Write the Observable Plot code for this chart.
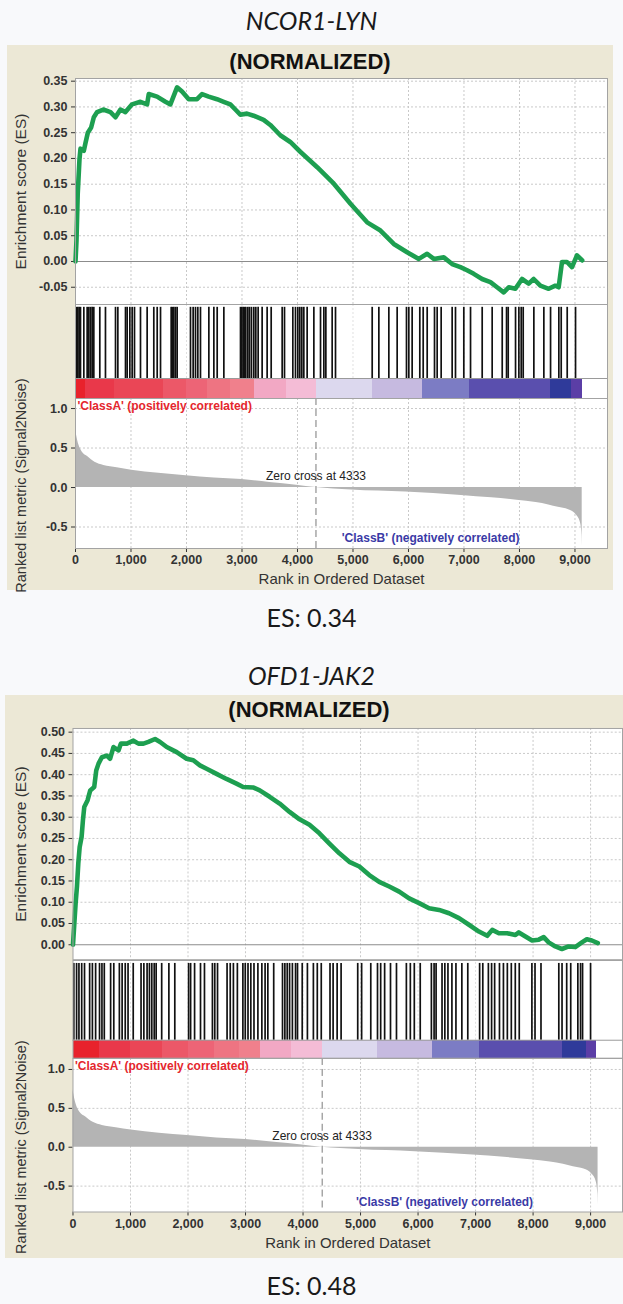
<!DOCTYPE html>
<html><head><meta charset="utf-8">
<script src="https://cdn.jsdelivr.net/npm/d3@7"></script>
<script src="https://cdn.jsdelivr.net/npm/@observablehq/plot@0.6"></script>
<style>
html,body{margin:0;padding:0;background:#f8f9fb;}
#root{position:relative;width:623px;height:1304px;overflow:hidden;background:#f8f9fb;}
.gene{position:absolute;left:0;width:623px;text-align:center;font-family:Lato,"Open Sans",sans-serif;font-style:italic;font-size:25px;color:#1a1a1a;line-height:1;}
.esv{position:absolute;left:0;width:623px;text-align:center;font-family:Lato,"Open Sans",sans-serif;font-size:25px;color:#1a1a1a;line-height:1;}
.panel{position:absolute;background:#ece8d6;}
.norm{position:absolute;text-align:center;font-family:"Liberation Sans",Arial,sans-serif;font-weight:bold;font-size:22px;color:#111;line-height:1;}
</style></head>
<body><div id="root"></div>
<script>
// ---------- data ----------
const geneTitles = ["NCOR1-LYN", "OFD1-JAK2"];
const esLabels = ["ES: 0.34", "ES: 0.48"];
const xTicks = [0, 1000, 2000, 3000, 4000, 5000, 6000, 7000, 8000, 9000];
const esTicks1 = [-0.05, 0, 0.05, 0.10, 0.15, 0.20, 0.25, 0.30, 0.35];
const esTicks2 = [0, 0.05, 0.10, 0.15, 0.20, 0.25, 0.30, 0.35, 0.40, 0.45, 0.50];
const metricTicks = [-0.5, 0.0, 0.5, 1.0];
const zeroCross = 4333;
const classALabel = "'ClassA' (positively correlated)";
const classBLabel = "'ClassB' (negatively correlated)";

// running enrichment score, panel 1 (NCOR1-LYN)
const esRank1 = [0,18,40,72,90,150,180,222,282,330,390,500,630,720,810,900,1020,1170,1290,1320,1470,1620,1710,1830,1920,2040,2190,2280,2400,2550,2670,2790,2880,2970,3090,3210,3390,3510,3690,3870,4050,4355,4655,4955,5255,5495,5735,5975,6186,6336,6456,6636,6786,6936,7056,7176,7326,7476,7596,7716,7806,7926,8046,8166,8256,8376,8526,8646,8706,8766,8856,8946,9036,9130];
const esVal1 = [0,0.041,0.131,0.199,0.219,0.215,0.23,0.25,0.26,0.28,0.29,0.295,0.29,0.28,0.295,0.29,0.305,0.31,0.305,0.325,0.32,0.31,0.305,0.338,0.33,0.315,0.315,0.325,0.32,0.315,0.31,0.305,0.295,0.285,0.287,0.283,0.275,0.265,0.245,0.232,0.213,0.183,0.151,0.112,0.076,0.060,0.034,0.018,0.005,0.015,0.005,0.008,-0.005,-0.011,-0.017,-0.024,-0.034,-0.040,-0.050,-0.060,-0.050,-0.053,-0.034,-0.043,-0.034,-0.047,-0.053,-0.047,-0.050,-0.001,-0.001,-0.011,0.012,0.002];

// running enrichment score, panel 2 (OFD1-JAK2)
const esRank2 = [0,23,46,69,92,116,150,173,196,254,300,369,404,444,502,589,646,704,791,832,936,1051,1138,1225,1311,1427,1514,1630,1803,1976,2092,2207,2323,2496,2669,2843,2958,3131,3247,3420,3593,3766,3940,4112,4285,4459,4632,4805,4979,5152,5325,5499,5672,5845,6019,6192,6365,6539,6712,6885,7059,7203,7290,7405,7550,7694,7752,7867,7983,8098,8185,8271,8387,8502,8618,8733,8849,8935,9022,9126];
const esVal2 = [0,0.05,0.098,0.137,0.191,0.23,0.254,0.293,0.324,0.34,0.363,0.371,0.41,0.426,0.441,0.445,0.4375,0.465,0.457,0.473,0.473,0.48,0.473,0.473,0.477,0.484,0.477,0.465,0.453,0.4375,0.434,0.422,0.414,0.402,0.39,0.379,0.371,0.37,0.363,0.348,0.332,0.3125,0.295,0.282,0.262,0.238,0.215,0.195,0.184,0.164,0.148,0.137,0.125,0.109,0.098,0.086,0.082,0.074,0.0625,0.047,0.031,0.021,0.035,0.027,0.027,0.023,0.029,0.0195,0.010,0.012,0.018,0.0055,-0.004,-0.010,-0.004,-0.0055,0.0055,0.013,0.010,0.004];

// gene-set hit positions (rank)
const hits1 = [18,42,66,90,150,210,240,270,300,330,438,540,721,763,901,931,979,1021,1063,1171,1291,1411,1472,1532,1724,1748,1772,1802,1832,2072,2120,2162,2204,2252,2403,2493,2553,2673,2973,2997,3021,3045,3069,3105,3135,3171,3213,3249,3291,3363,3453,3526,3724,3766,3916,3964,4006,4042,4078,4114,4174,4295,4415,4475,4511,4625,4685,5346,5466,5646,5796,5964,6006,6066,6204,6265,6337,6469,6517,6589,6787,6847,6997,7118,7328,7508,7689,7767,7797,7929,7989,8031,8067,8259,8439,8560,8709,8752,8860,9010];
const hits2 = [14,62,103,151,200,289,337,393,461,503,544,654,709,806,854,908,957,1047,1183,1232,1288,1329,1370,1412,1446,1542,1667,1770,2010,2045,2114,2217,2286,2424,2465,2513,2679,2734,2789,2858,2954,2995,3043,3092,3147,3215,3284,3340,3388,3490,3643,3684,3725,3766,3815,3870,3904,3986,4076,4180,4248,4317,4469,4523,4593,4662,4951,5019,5178,5295,5350,5419,5521,5625,5797,5866,5935,6038,6232,6279,6314,6417,6466,6520,6589,6659,6762,6865,7071,7126,7223,7279,7332,7416,7485,7553,7622,7691,7760,7980,8034,8138,8448,8504,8585,8655,8779,8826,8861,9000];

// ranked list metric (Signal2Noise), same ranked list in both panels
const metricRank = [0,20,60,120,223,350,510,750,1011,1500,1992,2500,3000,3500,3982,4333,4970,5950,6953,7500,7955,8300,8527,8700,8885,9030,9100,9125,9130];
const metricVal = [0.74,0.66,0.54,0.45,0.39,0.32,0.28,0.25,0.22,0.18,0.15,0.12,0.10,0.065,0.03,0,-0.03,-0.057,-0.10,-0.13,-0.16,-0.19,-0.22,-0.25,-0.28,-0.35,-0.45,-0.6,-0.74];

// colour bar bands: rank edges and level index into the palette
const bandEdges1 = [0,186,700,1584,2000,2372,2800,3224,3800,4342,5350,6252,7100,8550,8940,9135];
const bandEdges2 = [0,461,1000,1563,2000,2458,2900,3255,3800,4330,5300,6252,7071,8516,8930,9110];
const bandLevels = [0,1,2,3,4,5,6,7,8,9,10,11,12,13,14];
const bandPalette = ["#e8222c","#e9384a","#ea4656","#ec5868","#ed6476","#ee7482","#f0808c","#f2a8c4","#f4bcd6","#dcd8ee","#c6bae0","#7c7cc4","#5a4fae","#2f3a9a","#5b3ea6"];

// ---------- layout (page pixels) ----------
const LAYOUT = [
  {panelL:7, panelR:613, panelT:45, panelB:590, frameL:75, frameR:607, normY:51, esT:78, esB:304, hitsB:398, cbH:20, rankB:548,
   titleY:8, esY:605, esDom:[-0.0835,0.3552], mDom:[-0.772,1.127], xMax:9586},
  {panelL:5, panelR:640, panelT:695, panelB:1258, frameL:72.7, frameR:624, normY:699, esT:728, esB:960, hitsB:1058, cbH:18, rankB:1212,
   titleY:663, esY:1273, esDom:[-0.0352,0.5087], mDom:[-0.833,1.141], xMax:9555}
];

const panels = [
  {es: d3.zip(esRank1, esVal1), esTicks: esTicks1, hits: hits1, edges: bandEdges1},
  {es: d3.zip(esRank2, esVal2), esTicks: esTicks2, hits: hits2, edges: bandEdges2}
];
const metric = d3.zip(metricRank, metricVal).map(([rank, value]) => ({rank, value}));

const root = document.getElementById("root");
const grid = {stroke:"#c9c9c9", strokeDasharray:"2,2"};
const baseStyle = {background:"transparent", fontFamily:"'Liberation Sans', Arial, sans-serif", fontSize:"12.5px", fontWeight:"bold", color:"#333", overflow:"visible"};

function place(el, left, top) {
  el.style.position = "absolute";
  el.style.left = left + "px";
  el.style.top = top + "px";
  root.appendChild(el);
}

panels.forEach((p, i) => {
  const g = LAYOUT[i];
  const t = document.createElement("div");
  t.className = "gene"; t.textContent = geneTitles[i]; t.style.top = g.titleY + "px"; root.appendChild(t);

  const bg = document.createElement("div");
  bg.className = "panel";
  Object.assign(bg.style, {left:g.panelL+"px", top:g.panelT+"px", width:(g.panelR-g.panelL)+"px", height:(g.panelB-g.panelT)+"px"});
  root.appendChild(bg);

  const n = document.createElement("div");
  n.className = "norm"; n.textContent = "(NORMALIZED)";
  Object.assign(n.style, {left:g.panelL+"px", width:(613-g.panelL)+"px", top:g.normY+"px"});
  root.appendChild(n);

  const W = g.frameR + 6 - g.panelL;
  const mL = g.frameL - g.panelL;
  const labelDx = 21 - g.frameL;
  const es = p.es.map(([rank, v]) => ({rank, es: v}));
  const labelStyle = {frameAnchor: "left", textAnchor: "middle", rotate: -90, dx: labelDx, fontSize: 15.5, fontWeight: "normal", fill: "#333"};

  // ---- running ES ----
  const esPlot = Plot.plot({
    width: W, height: g.esB - g.esT + 8, marginTop: 8, marginBottom: 0, marginLeft: mL, marginRight: 6,
    style: baseStyle,
    x: {domain: [0, g.xMax], axis: null},
    y: {domain: g.esDom, ticks: p.esTicks, tickFormat: d => d.toFixed(2), tickSize: 4, tickPadding: 4, label: null},
    marks: [
      Plot.frame({fill: "white", stroke: "none"}),
      Plot.ruleX(xTicks.slice(1), grid),
      Plot.ruleY(p.esTicks.filter(v => v !== 0), grid),
      Plot.ruleY([0], {stroke: "#8c8c8c", strokeWidth: 1.2}),
      Plot.line(es, {x: "rank", y: "es", stroke: "#1d9f50", strokeWidth: 4.6, strokeLinejoin: "round"}),
      Plot.frame({stroke: "#a3a3a3"}),
      Plot.text(["Enrichment score (ES)"], {text: d => d, ...labelStyle})
    ]
  });
  place(esPlot, g.panelL, g.esT - 8);

  // ---- hits + colour bar ----
  const hH = g.hitsB - g.esB;
  const cbFrac = g.cbH / hH;
  const bands = bandLevels.map((lv, k) => ({from: p.edges[k], to: p.edges[k + 1], level: lv}));
  const hitPlot = Plot.plot({
    width: W, height: hH, marginTop: 0, marginBottom: 0, marginLeft: mL, marginRight: 6,
    style: baseStyle,
    x: {domain: [0, g.xMax], axis: null},
    y: {domain: [0, 1], axis: null},
    color: {type: "ordinal", domain: bandLevels, range: bandPalette},
    marks: [
      Plot.frame({fill: "white", stroke: "none"}),
      Plot.ruleX(xTicks.slice(1), {...grid, y1: cbFrac, y2: 1, stroke: "#e0e0e0"}),
      Plot.ruleX(p.hits, {x: d => d, y1: () => cbFrac, y2: () => 0.97, stroke: "#111", strokeWidth: 1.7}),
      Plot.rect(bands, {x1: "from", x2: "to", y1: () => 0, y2: () => cbFrac, fill: "level", shapeRendering: "crispEdges"}),
      Plot.ruleY([cbFrac], {stroke: "#9a9a9a"}),
      Plot.frame({stroke: "#a3a3a3"})
    ]
  });
  place(hitPlot, g.panelL, g.esB);

  // ---- ranked list metric ----
  const mB = g.panelB - g.rankB;
  const rankPlot = Plot.plot({
    width: W, height: g.panelB - g.hitsB, marginTop: 0, marginBottom: mB, marginLeft: mL, marginRight: 6,
    style: baseStyle,
    x: {domain: [0, g.xMax], ticks: xTicks, tickFormat: d3.format(","), tickSize: 4, tickPadding: 3, label: null},
    y: {domain: g.mDom, ticks: metricTicks, tickFormat: d => d.toFixed(1), tickSize: 4, tickPadding: 4, label: null},
    marks: [
      Plot.frame({fill: "white", stroke: "none"}),
      Plot.ruleX(xTicks.slice(1), grid),
      Plot.ruleY(metricTicks.filter(v => v !== 0), grid),
      Plot.areaY(metric, {x: "rank", y: "value", fill: "#b4b4b4", curve: "monotone-x"}),
      Plot.ruleX([zeroCross], {stroke: "#7a7a7a", strokeDasharray: "7,4"}),
      Plot.frame({stroke: "#a3a3a3"}),
      Plot.text([classALabel], {text: d => d, frameAnchor: "top-left", textAnchor: "start", lineAnchor: "middle", dx: 2, dy: 8, fill: "#e5262d", fontSize: 12}),
      Plot.text([zeroCross], {x: d => d, y: () => 0, text: d => `Zero cross at ${d}`, dy: -11, fill: "#222", fontSize: 12, fontWeight: "normal"}),
      Plot.text([classBLabel], {text: d => d, x: () => 8000, frameAnchor: "bottom", textAnchor: "end", lineAnchor: "middle", dy: -10, fill: "#3a3aa6", fontSize: 12}),
      Plot.text(["Ranked list metric (Signal2Noise)"], {text: d => d, ...labelStyle, dy: 12, fontSize: 14.5}),
      Plot.text(["Rank in Ordered Dataset"], {text: d => d, frameAnchor: "bottom", lineAnchor: "middle", dy: 31, fontSize: 15, fontWeight: "normal", fill: "#333"})
    ]
  });
  place(rankPlot, g.panelL, g.hitsB);

  const e = document.createElement("div");
  e.className = "esv"; e.textContent = esLabels[i]; e.style.top = g.esY + "px"; root.appendChild(e);
});
</script>
</body></html>
